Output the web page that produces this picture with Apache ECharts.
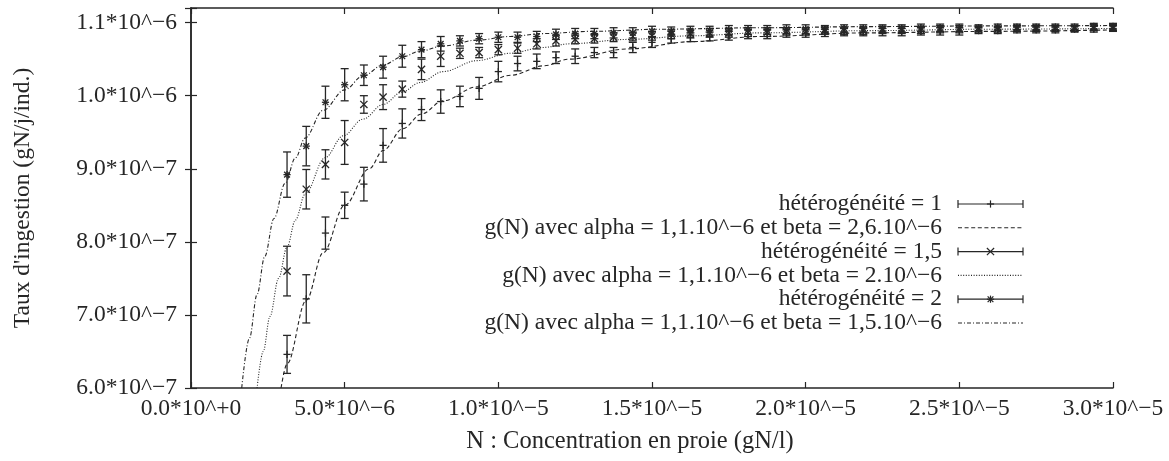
<!DOCTYPE html>
<html><head><meta charset="utf-8">
<script src="https://cdn.jsdelivr.net/npm/echarts@6/dist/echarts.min.js"></script>
<style>html,body{margin:0;padding:0;background:#fff}#c{width:1169px;height:461px}</style>
</head><body><div id="c"></div>
<script>
// ---- data ----
const concentration = [3.125e-6,3.75e-6,4.375e-6,5e-6,5.625e-6,6.25e-6,6.875e-6,7.5e-6,8.125e-6,8.75e-6,9.375e-6,10e-6,10.625e-6,11.25e-6,11.875e-6,12.5e-6,13.125e-6,13.75e-6,14.375e-6,15e-6,15.625e-6,16.25e-6,16.875e-6,17.5e-6,18.125e-6,18.75e-6,19.375e-6,20e-6,20.625e-6,21.25e-6,21.875e-6,22.5e-6,23.125e-6,23.75e-6,24.375e-6,25e-6,25.625e-6,26.25e-6,26.875e-6,27.5e-6,28.125e-6,28.75e-6,29.375e-6,30e-6];

const het1 = [6.46e-7,7.22e-7,8.12e-7,8.50e-7,8.79e-7,9.32e-7,9.62e-7,9.81e-7,9.92e-7,9.99e-7,10.10e-7,10.33e-7,10.44e-7,10.47e-7,10.52e-7,10.54e-7,10.59e-7,10.59e-7,10.66e-7,10.73e-7,10.78e-7,10.80e-7,10.81e-7,10.82e-7,10.84e-7,10.84e-7,10.85e-7,10.85e-7,10.86e-7,10.87e-7,10.87e-7,10.87e-7,10.87e-7,10.88e-7,10.88e-7,10.88e-7,10.89e-7,10.89e-7,10.90e-7,10.90e-7,10.90e-7,10.91e-7,10.91e-7,10.92e-7];
const err1 = [0.26e-7,0.33e-7,0.22e-7,0.18e-7,0.23e-7,0.23e-7,0.20e-7,0.15e-7,0.16e-7,0.14e-7,0.15e-7,0.14e-7,0.10e-7,0.10e-7,0.08e-7,0.10e-7,0.07e-7,0.07e-7,0.07e-7,0.07e-7,0.06e-7,0.06e-7,0.06e-7,0.06e-7,0.06e-7,0.06e-7,0.05e-7,0.05e-7,0.05e-7,0.05e-7,0.05e-7,0.05e-7,0.05e-7,0.05e-7,0.05e-7,0.05e-7,0.04e-7,0.04e-7,0.04e-7,0.04e-7,0.04e-7,0.04e-7,0.04e-7,0.04e-7];

const het15 = [7.60e-7,8.72e-7,9.06e-7,9.36e-7,9.88e-7,9.98e-7,10.09e-7,10.36e-7,10.54e-7,10.58e-7,10.59e-7,10.63e-7,10.65e-7,10.71e-7,10.75e-7,10.77e-7,10.78e-7,10.80e-7,10.81e-7,10.82e-7,10.84e-7,10.85e-7,10.86e-7,10.86e-7,10.87e-7,10.87e-7,10.88e-7,10.88e-7,10.89e-7,10.89e-7,10.89e-7,10.90e-7,10.90e-7,10.90e-7,10.91e-7,10.91e-7,10.91e-7,10.91e-7,10.92e-7,10.92e-7,10.92e-7,10.92e-7,10.93e-7,10.93e-7];
const err15 = [0.34e-7,0.27e-7,0.20e-7,0.30e-7,0.12e-7,0.17e-7,0.11e-7,0.14e-7,0.14e-7,0.07e-7,0.07e-7,0.07e-7,0.07e-7,0.07e-7,0.07e-7,0.06e-7,0.06e-7,0.06e-7,0.06e-7,0.06e-7,0.06e-7,0.06e-7,0.06e-7,0.06e-7,0.06e-7,0.06e-7,0.05e-7,0.05e-7,0.05e-7,0.05e-7,0.05e-7,0.05e-7,0.05e-7,0.05e-7,0.05e-7,0.05e-7,0.04e-7,0.04e-7,0.04e-7,0.04e-7,0.04e-7,0.04e-7,0.04e-7,0.04e-7];

const het2 = [8.92e-7,9.31e-7,9.91e-7,10.15e-7,10.28e-7,10.39e-7,10.54e-7,10.63e-7,10.71e-7,10.75e-7,10.78e-7,10.80e-7,10.80e-7,10.81e-7,10.84e-7,10.85e-7,10.85e-7,10.86e-7,10.86e-7,10.88e-7,10.88e-7,10.89e-7,10.89e-7,10.90e-7,10.90e-7,10.90e-7,10.91e-7,10.91e-7,10.91e-7,10.92e-7,10.92e-7,10.92e-7,10.92e-7,10.93e-7,10.93e-7,10.93e-7,10.93e-7,10.94e-7,10.94e-7,10.94e-7,10.94e-7,10.94e-7,10.95e-7,10.95e-7];
const err2 = [0.31e-7,0.27e-7,0.22e-7,0.22e-7,0.14e-7,0.15e-7,0.15e-7,0.11e-7,0.10e-7,0.07e-7,0.07e-7,0.07e-7,0.07e-7,0.07e-7,0.07e-7,0.07e-7,0.07e-7,0.07e-7,0.07e-7,0.07e-7,0.06e-7,0.06e-7,0.06e-7,0.06e-7,0.06e-7,0.06e-7,0.06e-7,0.06e-7,0.05e-7,0.05e-7,0.05e-7,0.05e-7,0.05e-7,0.05e-7,0.05e-7,0.05e-7,0.04e-7,0.04e-7,0.04e-7,0.04e-7,0.04e-7,0.04e-7,0.04e-7,0.04e-7];

// fitted curves g(N)
const fitB26N = [2.93e-6,3.125e-6,3.75e-6,4.3e-6,5.0e-6,5.8e-6,6.25e-6,6.9e-6,7.5e-6,8.2e-6,9.3e-6,10.4e-6,11.5e-6,12.3e-6,14.2e-6,16.3e-6,18.5e-6,22e-6,26e-6,30e-6];
const fitB26G = [6.00e-7,6.33e-7,7.20e-7,7.85e-7,8.50e-7,9.00e-7,9.25e-7,9.55e-7,9.75e-7,9.93e-7,10.12e-7,10.28e-7,10.41e-7,10.50e-7,10.64e-7,10.74e-7,10.81e-7,10.86e-7,10.88e-7,10.90e-7];
const fitB20N = [2.15e-6,2.35e-6,2.57e-6,2.85e-6,3.125e-6,3.4e-6,3.71e-6,4.36e-6,4.95e-6,5.6e-6,6.25e-6,6.87e-6,7.45e-6,8.2e-6,9.31e-6,10.38e-6,11.45e-6,12.33e-6,14.19e-6,16.34e-6,18.52e-6,22e-6,26e-6,30e-6];
const fitB20G = [6.00e-7,6.50e-7,6.98e-7,7.50e-7,7.93e-7,8.30e-7,8.65e-7,9.15e-7,9.45e-7,9.68e-7,9.88e-7,10.05e-7,10.18e-7,10.33e-7,10.48e-7,10.58e-7,10.66e-7,10.71e-7,10.77e-7,10.82e-7,10.86e-7,10.89e-7,10.91e-7,10.92e-7];
const fitB15N = [1.65e-6,1.9e-6,2.15e-6,2.4e-6,2.7e-6,3.06e-6,3.4e-6,3.71e-6,4.3e-6,5.0e-6,5.6e-6,6.25e-6,6.87e-6,7.45e-6,8.2e-6,9.31e-6,10.38e-6,11.45e-6,13e-6,15.3e-6,18.5e-6,22e-6,26e-6,30e-6];
const fitB15G = [6.00e-7,6.68e-7,7.28e-7,7.80e-7,8.32e-7,8.80e-7,9.15e-7,9.42e-7,9.80e-7,10.08e-7,10.27e-7,10.42e-7,10.53e-7,10.61e-7,10.68e-7,10.76e-7,10.81e-7,10.85e-7,10.88e-7,10.91e-7,10.93e-7,10.945e-7,10.955e-7,10.96e-7];

const xTickValues = [0,5e-6,10e-6,15e-6,20e-6,25e-6,30e-6];
const xTickLabels = ['0.0*10^+0','5.0*10^\u22126','1.0*10^\u22125','1.5*10^\u22125','2.0*10^\u22125','2.5*10^\u22125','3.0*10^\u22125'];
const yTickValues = [6e-7,7e-7,8e-7,9e-7,10e-7,11e-7];
const yTickLabels = ['6.0*10^\u22127','7.0*10^\u22127','8.0*10^\u22127','9.0*10^\u22127','1.0*10^\u22126','1.1*10^\u22126'];

const legendNames = ['hétérogénéité = 1','g(N) avec alpha = 1,1.10^\u22126 et beta = 2,6.10^\u22126','hétérogénéité = 1,5','g(N) avec alpha = 1,1.10^\u22126 et beta = 2.10^\u22126','hétérogénéité = 2','g(N) avec alpha = 1,1.10^\u22126 et beta = 1,5.10^\u22126'];

// ---- styles ----
const INK = '#262626';
const FONT = 'Liberation Serif';
const FS = 23.5;
const DASHED = [4, 2.6];
const DOTTED = [1, 1.6];
const DASHDOT = [4, 2, 1, 2];

function labelFor(values, labels){
  return function(v){
    for (let i=0;i<values.length;i++){
      if (Math.abs(v - values[i]) < 1e-12) return labels[i];
    }
    return '';
  };
}

function markerShapes(ch, cx, cy, m, marker, st){
  if (marker==='plus' || marker==='star'){
    ch.push({type:'line', shape:{x1:cx-m,y1:cy,x2:cx+m,y2:cy}, style:st});
    ch.push({type:'line', shape:{x1:cx,y1:cy-m,x2:cx,y2:cy+m}, style:st});
  }
  if (marker==='cross' || marker==='star'){
    const d = marker==='star' ? m*0.8 : m;
    ch.push({type:'line', shape:{x1:cx-d,y1:cy-d,x2:cx+d,y2:cy+d}, style:st});
    ch.push({type:'line', shape:{x1:cx-d,y1:cy+d,x2:cx+d,y2:cy-d}, style:st});
  }
}

function errSeries(name, ys, errs, marker){
  const data = concentration.map((x,i)=>[x, ys[i], ys[i]-errs[i], ys[i]+errs[i]]);
  return {
    type:'custom', name, data, z:5,
    encode:{x:0, y:[1,2,3]},
    renderItem:function(params, api){
      const x = api.value(0), y = api.value(1), lo = api.value(2), hi = api.value(3);
      const p = api.coord([x,y]), pl = api.coord([x,lo]), ph = api.coord([x,hi]);
      const cw = 4, m = 3.6;
      const st = {stroke:INK, lineWidth:1.3, fill:null};
      const ch = [
        {type:'line', shape:{x1:p[0],y1:pl[1],x2:p[0],y2:ph[1]}, style:st},
        {type:'line', shape:{x1:p[0]-cw,y1:pl[1],x2:p[0]+cw,y2:pl[1]}, style:st},
        {type:'line', shape:{x1:p[0]-cw,y1:ph[1],x2:p[0]+cw,y2:ph[1]}, style:st}
      ];
      markerShapes(ch, p[0], p[1], m, marker, st);
      return {type:'group', children:ch};
    }
  };
}

function curveSeries(name, ns, gs, dash){
  return {
    type:'line', name, data: ns.map((n,i)=>[n, gs[i]]),
    showSymbol:false, symbol:'none', smooth:0.35, smoothMonotone:'x', clip:true, z:3,
    lineStyle:{color:INK, width:1.1, type:dash}
  };
}

// ---- legend drawn as graphic ----
const LX_TEXT = 942, LX0 = 958, LX1 = 1023, LY0 = 204, LDY = 23.8;
const legendGraphics = [];
const legendKinds = ['plus','dashed','cross','dotted','star','dashdot'];
legendNames.forEach((nm, i)=>{
  const y = LY0 + i*LDY;
  legendGraphics.push({type:'text', x:LX_TEXT, y:y, style:{text:nm, fill:INK, font:FS+'px "'+FONT+'"', textAlign:'right', textVerticalAlign:'middle'}});
  const k = legendKinds[i];
  const st = {stroke:INK, lineWidth:1.2, fill:null};
  if (k==='plus'||k==='cross'||k==='star'){
    legendGraphics.push({type:'line', shape:{x1:LX0,y1:y,x2:LX1,y2:y}, style:st});
    legendGraphics.push({type:'line', shape:{x1:LX0,y1:y-4,x2:LX0,y2:y+4}, style:st});
    legendGraphics.push({type:'line', shape:{x1:LX1,y1:y-4,x2:LX1,y2:y+4}, style:st});
    const ch = [];
    markerShapes(ch, (LX0+LX1)/2, y, 3.6, k, st);
    ch.forEach(c=>legendGraphics.push(c));
  } else {
    const dash = k==='dashed'?DASHED:(k==='dotted'?DOTTED:DASHDOT);
    legendGraphics.push({type:'line', shape:{x1:LX0,y1:y,x2:LX1,y2:y}, style:{stroke:INK, lineWidth:1.1, lineDash:dash}});
  }
});

const axisCommon = {
  axisLine:{show:true, lineStyle:{color:INK, width:1.5}},
  axisTick:{show:true, inside:true, length:6, lineStyle:{color:INK, width:1.2}},
  splitLine:{show:false}
};

const chart = echarts.init(document.getElementById('c'), null, {renderer:'canvas'});
chart.setOption({
  backgroundColor:'#fff',
  animation:false,
  grid:{left:191, right:56, top:8, bottom:73, containLabel:false, outerBoundsMode:'none'},
  xAxis:[
    Object.assign({type:'value', min:0, max:30e-6, interval:5e-6, position:'bottom',
      name:'N : Concentration en proie (gN/l)', nameLocation:'middle', nameGap:41,
      nameTextStyle:{fontFamily:FONT, fontSize:24.5, color:INK, padding:[0,44,0,0]},
      axisLabel:{formatter:labelFor(xTickValues,xTickLabels), fontFamily:FONT, fontSize:FS, color:INK, margin:9, showMinLabel:true, showMaxLabel:true}
    }, axisCommon),
    Object.assign({type:'value', min:0, max:30e-6, interval:5e-6, position:'top', axisLabel:{show:false}}, axisCommon)
  ],
  yAxis:[
    Object.assign({type:'value', min:6e-7, max:11.2e-7, interval:1e-7, position:'left',
      name:"Taux d'ingestion (gN/j/ind.)", nameLocation:'middle', nameGap:156, nameRotate:90,
      nameTextStyle:{fontFamily:FONT, fontSize:FS, color:INK},
      axisLabel:{formatter:labelFor(yTickValues,yTickLabels), fontFamily:FONT, fontSize:FS, color:INK, margin:14}
    }, axisCommon),
    Object.assign({type:'value', min:6e-7, max:11.2e-7, interval:1e-7, position:'right', axisLabel:{show:false}}, axisCommon)
  ],
  series:[
    curveSeries(legendNames[1], fitB26N, fitB26G, DASHED),
    curveSeries(legendNames[3], fitB20N, fitB20G, DOTTED),
    curveSeries(legendNames[5], fitB15N, fitB15G, DASHDOT),
    errSeries(legendNames[0], het1, err1, 'plus'),
    errSeries(legendNames[2], het15, err15, 'cross'),
    errSeries(legendNames[4], het2, err2, 'star')
  ],
  graphic: legendGraphics
});
</script>
</body></html>
